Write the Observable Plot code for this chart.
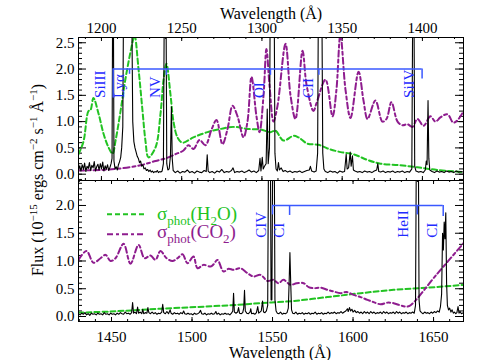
<!DOCTYPE html>
<html><head><meta charset="utf-8">
<script src="https://cdn.jsdelivr.net/npm/d3@7"></script>
<script src="https://cdn.jsdelivr.net/npm/@observablehq/plot@0.6"></script>
<style>
body{margin:0;background:#fff;}
#chart{position:relative;width:488px;height:360px;}
#chart svg{position:absolute;left:0;overflow:visible;}
#chart svg text, #chart svg tspan{font-family:"Liberation Serif","Times New Roman",serif;}
</style></head><body><div id="chart"></div>
<script>
// ---------- data ----------
const topWaveDomain = [1185.7, 1425.6];
const bottomWaveDomain = [1429.5, 1668.6];
const topFluxDomain = [-0.12, 2.6];
const bottomFluxDomain = [-0.09, 2.45];

const topXTickLabels = [1200, 1250, 1300, 1350, 1400];
const bottomXTickLabels = [1450, 1500, 1550, 1600, 1650];
const topYTickLabels = [0, 0.5, 1, 1.5, 2, 2.5];
const bottomYTickLabels = [0, 0.5, 1, 1.5, 2];

// observed spectrum (10^-15 erg cm^-2 s^-1 A^-1), [wavelength, flux]
const topSpectrum = [
[1185.7,0.10],[1186.5,0.16],[1187.2,0.06],[1188.0,0.18],[1188.8,0.09],[1189.5,0.21],[1190.3,0.05],[1191.0,0.15],[1191.8,0.11],[1192.5,0.22],
[1193.3,0.07],[1194.0,0.17],[1194.8,0.12],[1195.5,0.24],[1196.3,0.06],[1197.0,0.14],[1197.8,0.19],[1198.5,0.08],[1199.3,0.20],[1200.0,0.10],
[1200.8,0.23],[1201.5,0.06],[1202.3,0.16],[1203.0,0.09],[1203.8,0.18],[1204.5,0.07],[1205.3,0.13],[1206.0,0.20],[1206.6,0.30],[1207.0,3.5],
[1207.4,3.5],[1207.8,0.25],[1208.5,0.10],[1209.2,0.14],[1209.9,0.08],[1210.6,0.18],[1211.3,0.24],[1212.0,0.32],[1212.6,0.50],[1213.3,0.9],
[1213.8,3.5],[1218.8,3.5],[1219.5,1.0],[1220.2,0.62],[1220.9,0.5],[1221.6,0.42],[1222.3,0.34],[1223.0,0.30],[1223.7,0.22],[1224.4,0.25],
[1225.1,0.15],[1225.8,0.18],[1226.5,0.10],[1227.3,0.12],[1228.0,0.07],[1228.8,0.09],[1229.5,0.05],[1230.3,0.08],[1231.0,0.04],[1231.8,0.06],
[1232.5,0.03],[1233.3,0.05],[1234.0,0.04],[1234.8,0.07],[1235.5,0.03],[1236.3,0.05],[1237.0,0.04],[1237.8,0.06],[1238.6,0.20],[1239.2,3.5],
[1240.2,3.5],[1240.7,0.2],[1241.4,0.08],[1242.2,0.10],[1243.0,0.35],[1243.6,1.28],[1244.1,0.30],[1244.7,0.07],[1245.4,0.05],[1246.0,0.03],
[1247.5,0.06],[1249.0,0.02],[1250.5,0.05],[1252.0,0.04],[1253.5,0.08],[1255.0,0.03],[1256.5,0.05],[1258.0,0.02],[1259.5,0.06],[1261.0,0.04],
[1262.5,0.03],[1264.0,0.07],[1265.3,0.05],[1265.9,0.37],[1266.5,0.06],[1267.5,0.03],[1269.0,0.05],[1270.5,0.02],[1272.0,0.06],[1273.5,0.04],
[1275.0,0.09],[1276.5,0.03],[1278.0,0.05],[1279.5,0.04],[1281.0,0.07],[1282.0,0.12],[1283.0,0.03],[1284.5,0.05],[1286.0,0.04],[1287.5,0.06],
[1289.0,0.03],[1290.5,0.05],[1292.0,0.08],[1293.5,0.04],[1295.0,0.06],[1296.5,0.03],[1298.0,0.07],[1298.8,0.30],[1299.4,0.06],[1300.2,0.32],
[1300.8,0.10],[1301.6,0.15],[1302.6,0.20],[1303.3,1.24],[1303.9,0.20],[1304.7,0.50],[1305.2,3.5],[1307.6,3.5],[1308.1,0.4],[1308.8,0.10],
[1309.6,0.06],[1310.3,0.22],[1310.9,0.08],[1312.0,0.12],[1313.2,0.05],[1314.5,0.07],[1316.0,0.04],[1317.5,0.06],[1319.0,0.03],[1320.5,0.05],
[1322.0,0.04],[1323.5,0.06],[1325.0,0.03],[1326.5,0.05],[1328.0,0.07],[1329.5,0.08],[1330.2,0.15],[1331.0,0.06],[1332.5,0.04],[1333.8,0.06],
[1334.7,0.40],[1335.2,3.5],[1337.3,3.5],[1337.9,0.4],[1338.6,0.10],[1339.5,0.05],[1341.0,0.03],[1342.5,0.06],[1344.0,0.04],[1345.5,0.05],
[1347.0,0.02],[1348.5,0.06],[1350.0,0.04],[1351.5,0.05],[1352.5,0.38],[1353.1,0.10],[1354.0,0.12],[1355.0,0.42],[1355.6,0.15],[1356.4,0.35],
[1357.0,0.08],[1358.0,0.06],[1359.5,0.04],[1361.0,0.05],[1362.5,0.03],[1364.0,0.06],[1365.5,0.04],[1367.0,0.05],[1368.5,0.03],[1370.0,0.06],
[1371.5,0.08],[1372.2,0.20],[1372.8,0.05],[1374.0,0.04],[1375.5,0.06],[1377.0,0.03],[1378.5,0.05],[1380.0,0.04],[1381.5,0.06],[1383.0,0.03],
[1384.5,0.05],[1386.0,0.04],[1387.5,0.06],[1389.0,0.03],[1390.5,0.05],[1392.0,0.04],[1393.4,0.10],[1394.0,3.5],[1394.7,3.5],[1395.2,0.15],
[1396.0,0.06],[1397.5,0.04],[1399.0,0.05],[1400.5,0.03],[1401.8,0.08],[1402.4,0.25],[1402.9,0.18],[1403.5,1.40],[1404.0,0.30],[1404.6,0.08],
[1406.0,0.05],[1407.5,0.03],[1409.0,0.06],[1410.5,0.04],[1412.0,0.05],[1413.5,0.03],[1415.0,0.06],[1416.5,0.04],[1418.0,0.05],[1419.5,0.03],
[1421.0,0.06],[1422.5,0.04],[1424.0,0.05],[1425.6,0.04]
];

const bottomSpectrum = [
[1429.5,0.05],[1430.5,0.03],[1431.5,0.06],[1432.5,0.04],[1433.5,0.07],[1434.5,0.03],[1435.5,0.05],[1436.5,0.02],[1437.5,0.06],[1438.5,0.04],
[1439.5,0.05],[1440.5,0.03],[1441.5,0.06],[1442.5,0.04],[1443.5,0.05],[1444.5,0.03],[1445.5,0.07],[1446.5,0.04],[1447.5,0.05],[1448.5,0.03],
[1449.5,0.06],[1450.5,0.04],[1451.5,0.05],[1452.5,0.03],[1453.5,0.06],[1454.5,0.04],[1455.5,0.07],[1456.5,0.05],[1457.5,0.04],[1458.5,0.08],
[1459.5,0.05],[1460.5,0.06],[1461.5,0.04],[1462.5,0.07],[1463.1,0.25],[1463.7,0.06],[1464.5,0.08],[1465.5,0.05],[1466.2,0.17],[1466.8,0.06],
[1467.8,0.08],[1468.8,0.05],[1469.4,0.13],[1470.0,0.05],[1471.0,0.07],[1472.0,0.06],[1472.6,0.16],[1473.2,0.07],[1474.2,0.05],[1475.2,0.08],
[1476.2,0.05],[1477.2,0.07],[1478.2,0.04],[1479.2,0.06],[1480.2,0.05],[1481.2,0.08],[1481.8,0.22],[1482.4,0.07],[1483.4,0.05],[1484.4,0.09],
[1485.4,0.05],[1486.4,0.12],[1487.0,0.06],[1488.0,0.04],[1489.0,0.07],[1490.0,0.05],[1491.0,0.06],[1492.0,0.04],[1493.0,0.07],[1494.0,0.05],
[1494.8,0.10],[1495.5,0.05],[1496.5,0.04],[1497.5,0.06],[1498.5,0.04],[1499.5,0.05],[1500.5,0.03],[1501.5,0.06],[1502.5,0.04],[1503.5,0.05],
[1504.5,0.07],[1505.3,0.11],[1506.0,0.05],[1507.0,0.04],[1508.0,0.06],[1509.0,0.03],[1510.0,0.05],[1511.0,0.04],[1512.0,0.06],[1513.0,0.04],
[1514.0,0.05],[1514.8,0.09],[1515.5,0.04],[1516.5,0.06],[1517.5,0.03],[1518.5,0.05],[1519.5,0.04],[1520.5,0.06],[1521.5,0.04],[1522.5,0.05],
[1523.5,0.03],[1524.5,0.06],[1525.3,0.10],[1525.8,0.42],[1526.3,0.08],[1527.3,0.06],[1528.3,0.08],[1528.9,0.16],[1529.5,0.06],[1530.5,0.05],
[1531.5,0.07],[1532.1,0.15],[1532.6,0.47],[1533.1,0.10],[1534.0,0.06],[1535.0,0.05],[1536.0,0.08],[1536.5,0.14],[1537.0,0.05],[1538.0,0.06],
[1539.0,0.04],[1540.0,0.07],[1540.8,0.18],[1541.4,0.06],[1542.2,0.08],[1543.0,0.10],[1543.8,0.28],[1544.4,0.08],[1545.3,0.07],[1546.2,0.10],
[1547.0,0.20],[1547.6,3.5],[1548.6,3.5],[1549.1,0.30],[1549.6,0.30],[1550.2,3.5],[1551.0,3.5],[1551.5,0.30],[1552.2,0.10],[1553.0,0.06],
[1554.0,0.05],[1555.0,0.08],[1556.0,0.04],[1557.0,0.06],[1558.0,0.05],[1559.0,0.07],[1559.8,0.15],[1560.3,0.60],[1560.8,1.15],[1561.3,0.60],
[1561.8,0.12],[1562.5,0.06],[1563.5,0.05],[1564.5,0.08],[1565.5,0.04],[1566.5,0.06],[1567.5,0.05],[1568.5,0.07],[1569.5,0.04],[1570.5,0.06],
[1571.5,0.05],[1572.5,0.07],[1573.5,0.04],[1574.5,0.06],[1575.5,0.05],[1576.5,0.08],[1577.5,0.04],[1578.5,0.06],[1579.5,0.05],[1580.5,0.07],
[1581.5,0.04],[1582.5,0.06],[1583.5,0.05],[1584.5,0.08],[1585.5,0.05],[1586.5,0.07],[1587.5,0.06],[1588.5,0.08],[1589.5,0.05],[1590.5,0.07],
[1591.5,0.06],[1592.5,0.09],[1593.5,0.06],[1594.5,0.08],[1595.5,0.10],[1596.5,0.14],[1597.0,0.09],[1597.8,0.16],[1598.5,0.10],[1599.3,0.13],
[1600.0,0.08],[1601.0,0.11],[1602.0,0.07],[1603.0,0.09],[1604.0,0.06],[1605.0,0.08],[1606.0,0.05],[1607.0,0.09],[1608.0,0.06],[1609.0,0.08],
[1610.0,0.05],[1611.0,0.09],[1612.0,0.06],[1613.0,0.08],[1614.0,0.05],[1615.0,0.07],[1616.0,0.06],[1617.0,0.08],[1618.0,0.05],[1619.0,0.09],
[1620.0,0.06],[1621.0,0.08],[1622.0,0.05],[1623.0,0.07],[1624.0,0.06],[1625.0,0.08],[1626.0,0.05],[1627.0,0.09],[1628.0,0.06],[1629.0,0.08],
[1630.0,0.05],[1631.0,0.07],[1632.0,0.06],[1633.0,0.08],[1634.0,0.05],[1635.0,0.07],[1636.0,0.06],[1637.0,0.08],[1638.0,0.06],[1638.8,0.20],
[1639.4,3.5],[1640.5,3.5],[1641.0,0.30],[1641.6,0.10],[1642.5,0.07],[1643.5,0.05],[1644.5,0.08],[1645.5,0.06],[1646.5,0.07],[1647.5,0.05],
[1648.5,0.08],[1649.5,0.06],[1650.5,0.09],[1651.5,0.07],[1652.5,0.10],[1653.5,0.08],[1654.3,0.18],[1655.0,0.40],[1655.6,1.50],[1656.1,1.20],
[1656.6,1.70],[1657.1,1.40],[1657.6,1.87],[1658.1,0.60],[1658.6,0.20],[1659.3,0.12],[1660.0,0.15],[1660.8,0.08],[1661.5,0.12],[1662.3,0.06],
[1663.0,0.08],[1663.8,0.05],[1664.5,0.07],[1665.2,0.18],[1665.8,0.06],[1666.5,0.09],[1667.3,0.05],[1668.6,0.07]
];

// scaled photo-absorption cross sections
const topH2O = [
[1185.7,0.38],[1188.8,0.62],[1191.9,1.20],[1193.2,1.22],[1195.0,1.45],[1198.2,1.15],[1201.3,0.77],[1204.4,0.51],[1206.9,0.39],[1208.8,0.64],
[1211.9,1.20],[1215.0,1.82],[1219.3,2.50],[1220.6,2.65],[1223.1,2.00],[1225.6,1.20],[1227.4,0.64],[1229.3,0.32],[1233.7,0.51],[1236.8,1.15],
[1238.7,1.80],[1240.5,2.10],[1243.0,1.52],[1244.9,1.00],[1247.4,0.70],[1250.5,0.60],[1257.3,0.70],[1266.1,0.80],[1274.2,0.86],[1282.3,0.90],
[1291.0,0.86],[1299.1,0.85],[1305.3,0.80],[1308.4,0.83],[1313.4,0.64],[1319.7,0.73],[1322.8,0.70],[1328.4,0.58],[1335.2,0.56],[1340.8,0.49],
[1349.0,0.42],[1357.0,0.38],[1365.8,0.27],[1373.9,0.20],[1386.3,0.17],[1396.9,0.13],[1409.4,0.08],[1425.6,0.04]
];
const topCO2 = [
[1185.7,0.07],[1199.4,0.08],[1211.9,0.11],[1224.3,0.17],[1233.7,0.25],[1239.9,0.30],[1246.1,0.38],[1251.1,0.45],[1254.2,0.55],[1257.4,0.48],
[1261.1,0.65],[1264.8,0.55],[1268.6,0.85],[1271.7,1.03],[1275.4,0.57],[1278.5,0.85],[1281.7,1.30],[1284.8,1.10],[1288.5,0.70],[1291.0,1.00],
[1293.5,1.85],[1296.6,1.10],[1298.5,0.80],[1301.0,1.50],[1302.8,2.38],[1304.7,1.70],[1307.2,1.00],[1309.7,1.30],[1314.7,2.48],[1317.8,1.50],
[1320.9,1.05],[1325.3,2.35],[1327.8,1.70],[1332.1,1.20],[1334.0,1.35],[1339.6,1.80],[1344.0,1.10],[1346.4,1.60],[1348.9,2.65],[1352.1,1.60],
[1355.2,1.07],[1360.2,1.95],[1363.3,1.40],[1365.8,1.05],[1370.7,1.40],[1375.1,1.00],[1377.6,1.05],[1380.7,1.37],[1384.5,1.00],[1387.6,0.93],
[1390.7,0.95],[1393.8,0.90],[1396.9,1.05],[1400.7,0.92],[1405.0,1.10],[1408.1,1.00],[1411.2,1.08],[1415.6,1.14],[1419.3,0.98],[1422.5,1.05],
[1425.6,1.20]
];
const bottomH2O = [
[1429.5,0.07],[1449.4,0.09],[1480.4,0.14],[1522.0,0.20],[1542.5,0.24],[1563.0,0.28],[1584.2,0.35],[1604.7,0.42],[1625.2,0.48],[1646.3,0.52],
[1668.6,0.57]
];
const bottomCO2 = [
[1429.5,1.02],[1434.5,1.18],[1438.8,0.97],[1443.2,1.05],[1446.3,1.11],[1449.4,1.00],[1452.5,1.05],[1457.5,1.31],[1461.8,0.95],[1466.8,1.29],
[1470.5,1.05],[1474.2,1.10],[1477.3,1.02],[1480.4,1.18],[1484.2,1.05],[1487.9,1.00],[1491.0,1.05],[1494.1,1.12],[1497.2,0.96],[1500.9,1.08],
[1503.4,0.87],[1507.1,0.93],[1511.5,0.90],[1513.4,0.94],[1515.8,1.02],[1519.6,0.81],[1522.7,0.86],[1525.8,0.84],[1530.1,0.87],[1534.5,0.78],
[1538.2,0.72],[1542.5,0.75],[1546.9,0.64],[1550.6,0.66],[1553.7,0.60],[1556.8,0.66],[1561.2,0.57],[1564.9,0.60],[1569.3,0.60],[1572.4,0.53],
[1575.5,0.51],[1579.8,0.52],[1584.2,0.48],[1587.9,0.45],[1592.3,0.42],[1596.0,0.44],[1600.3,0.39],[1604.7,0.35],[1609.0,0.30],[1612.7,0.26],
[1617.1,0.22],[1621.4,0.25],[1625.2,0.24],[1629.5,0.20],[1632.6,0.18],[1635.1,0.19],[1652.0,0.76],[1668.6,1.32]
];

// line identifications
const topLineNames = ["SiIII", "Lyα", "NV", "OI", "CII", "SiIV"];
const topLineLabelWaves = [1199.4, 1211.2, 1233.7, 1298.5, 1329.0, 1391.9];
const topMarkerWaves = [1207.3, 1217.5, 1240.5, 1305.3, 1335.5, 1399.8];
const topMarkerEnds = [1.45, 1.90, 1.88, 1.88, 1.88, 1.81];
const bottomLineNames = ["CIV", "CI", "HeII", "CI"];
const bottomLineLabelWaves = [1543.2, 1554.3, 1631.4, 1649.4];
const bottomMarkerWaves = [1550.0, 1560.6, 1639.9, 1656.0];
const bottomMarkerEnds = [1.83, 1.82, 1.83, 1.80];
const bracketLevel = 2.0;
const topLabelLevel = 1.45;
const bottomLabelLevel = 1.42;

// ---------- styling ----------
const FONT = "Liberation Serif, Times New Roman, serif";
const GREEN = "#22c322";
const PURPLE = "#8e1c8e";
const BLUE_TEXT = "#1f2bff";
const BLUE_LINE = "#3a58ff";
const GREEN_DASH = "5,3";
const PURPLE_DASH = "6,3,3,3";
const W = 488, ML = 78, MR = 25;

function panel(o) {
  const innerW = W - ML - MR;
  const innerH = o.height - o.marginTop - o.marginBottom;
  const xMinor = d3.range(Math.ceil(o.xDomain[0] / 10) * 10, o.xDomain[1], 10);
  const xMajor = xMinor.filter(d => d % 50 === 0);
  const yMinor = d3.range(-10, Math.floor(o.yDomain[1] * 10) + 1).map(d => d / 10).filter(d => d >= o.yDomain[0]);
  const yMajor = yMinor.filter(d => Math.abs(d * 2 - Math.round(d * 2)) < 1e-9);
  const fmt = d => d.toFixed(1);
  const xy = {x: d => d[0], y: d => d[1], clip: true};
  const marks = [
    Plot.tickX(xMinor, {x: d => d, insetBottom: innerH - 2}),
    Plot.tickX(xMinor, {x: d => d, insetTop: innerH - 2}),
    Plot.tickX(xMajor, {x: d => d, insetBottom: innerH - 4}),
    Plot.tickX(xMajor, {x: d => d, insetTop: innerH - 4}),
    Plot.tickY(yMinor, {y: d => d, insetRight: innerW - 4}),
    Plot.tickY(yMinor, {y: d => d, insetLeft: innerW - 4}),
    Plot.tickY(yMajor, {y: d => d, insetRight: innerW - 8}),
    Plot.tickY(yMajor, {y: d => d, insetLeft: innerW - 8}),
    Plot.line(o.h2o, {...xy, stroke: GREEN, strokeWidth: 2, strokeDasharray: GREEN_DASH, curve: "catmull-rom"}),
    Plot.line(o.co2, {...xy, stroke: PURPLE, strokeWidth: 2, strokeDasharray: PURPLE_DASH, curve: "catmull-rom"}),
    Plot.line(o.spectrum, {...xy, stroke: "black", strokeWidth: 1.1}),
    Plot.ruleY([bracketLevel], {x1: o.markerWaves[0], x2: o.markerWaves[o.markerWaves.length - 1], stroke: BLUE_LINE, strokeWidth: 1.5}),
    Plot.ruleX(o.markerWaves, {x: d => d, y1: bracketLevel, y2: (d, i) => o.markerEnds[i], stroke: BLUE_LINE, strokeWidth: 1.5}),
    Plot.text(o.names, {x: (d, i) => o.labelWaves[i], y: o.labelLevel, text: d => d, rotate: -90, textAnchor: "start", lineAnchor: "middle", fill: BLUE_TEXT, fontSize: 15}),
    Plot.frame({stroke: "black", strokeWidth: 1}),
    Plot.axisX(o.xTicks, {anchor: o.xAnchor, tickSize: 0, tickPadding: o.xAnchor === "top" ? 5 : 10, tickFormat: d => String(d), label: null, fontSize: 15}),
    Plot.axisY(o.yTicks, {anchor: "left", tickSize: 0, tickPadding: 4, tickFormat: fmt, label: null, fontSize: 15}),
    Plot.text(["Wavelength (Å)"], {text: d => d, frameAnchor: o.xAnchor, dy: o.titleDy, dx: o.titleDx, lineAnchor: "bottom", fontSize: 16}),
    ...(o.extra || [])
  ];
  return Plot.plot({
    width: W, height: o.height,
    marginTop: o.marginTop, marginBottom: o.marginBottom, marginLeft: ML, marginRight: MR,
    x: {domain: o.xDomain}, y: {domain: o.yDomain},
    style: {fontFamily: FONT, fontSize: "15px", background: "transparent", color: "black", overflow: "visible"},
    marks
  });
}

function legend(index, scales, values, dims) {
  const g = d3.create("svg:g").attr("font-family", FONT).attr("text-anchor", "start");
  const items = [
    {color: GREEN, dash: GREEN_DASH, y: 34.3, base: 39.5, parts: [["σ", 0], ["phot", 1], ["(H", 0], ["2", 1], ["O)", 0]]},
    {color: PURPLE, dash: PURPLE_DASH, y: 54.3, base: 57.8, parts: [["σ", 0], ["phot", 1], ["(CO", 0], ["2", 1], [")", 0]]}
  ];
  for (const it of items) {
    g.append("line").attr("x1", 107).attr("x2", 146).attr("y1", it.y).attr("y2", it.y)
      .attr("stroke", it.color).attr("stroke-width", 2).attr("stroke-dasharray", it.dash);
    const t = g.append("text").attr("x", 157).attr("y", it.base).attr("fill", it.color)
      .attr("font-size", 19).attr("text-anchor", "start");
    let prev = 0;
    for (const [s, sub] of it.parts) {
      const dy = (sub ? 5 : 0) - prev;
      t.append("tspan").attr("dy", dy).attr("font-size", sub ? 13 : 19).text(s);
      prev = sub ? 5 : 0;
    }
  }
  return g.node();
}

const chart = document.getElementById("chart");
const topPlot = panel({
  height: 180, marginTop: 37, marginBottom: 0,
  xDomain: topWaveDomain, yDomain: topFluxDomain,
  spectrum: topSpectrum, h2o: topH2O, co2: topCO2,
  xTicks: topXTickLabels, yTicks: topYTickLabels, xAnchor: "top", titleDy: -19, titleDx: 0,
  names: topLineNames, labelWaves: topLineLabelWaves, labelLevel: topLabelLevel,
  markerWaves: topMarkerWaves, markerEnds: topMarkerEnds
});
topPlot.style.top = "0px";
chart.appendChild(topPlot);

const bottomPlot = panel({
  height: 180, marginTop: 0, marginBottom: 39,
  xDomain: bottomWaveDomain, yDomain: bottomFluxDomain,
  spectrum: bottomSpectrum, h2o: bottomH2O, co2: bottomCO2,
  xTicks: bottomXTickLabels, yTicks: bottomYTickLabels, xAnchor: "bottom", titleDy: 36, titleDx: 9,
  names: bottomLineNames, labelWaves: bottomLineLabelWaves, labelLevel: bottomLabelLevel,
  markerWaves: bottomMarkerWaves, markerEnds: bottomMarkerEnds,
  extra: [legend]
});
bottomPlot.style.top = "180px";
chart.appendChild(bottomPlot);

// shared y-axis title
const ov = d3.create("svg").attr("width", W).attr("height", 360)
  .style("top", "0px").style("pointer-events", "none").attr("font-family", FONT);
const yt = ov.append("text").attr("transform", "translate(43,180) rotate(-90)")
  .attr("text-anchor", "middle").attr("font-size", 16).attr("fill", "black");
const yParts = [["Flux (10", 0], ["−15", 1], [" ergs cm", 0], ["−2", 1], [" s", 0], ["−1", 1], [" Å", 0], ["−1", 1], [")", 0]];
let prevUp = 0;
for (const [s, sup] of yParts) {
  const up = sup ? -6 : 0;
  yt.append("tspan").attr("dy", up - prevUp).attr("font-size", sup ? 11 : 16).text(s);
  prevUp = up;
}
chart.appendChild(ov.node());
</script></body></html>
